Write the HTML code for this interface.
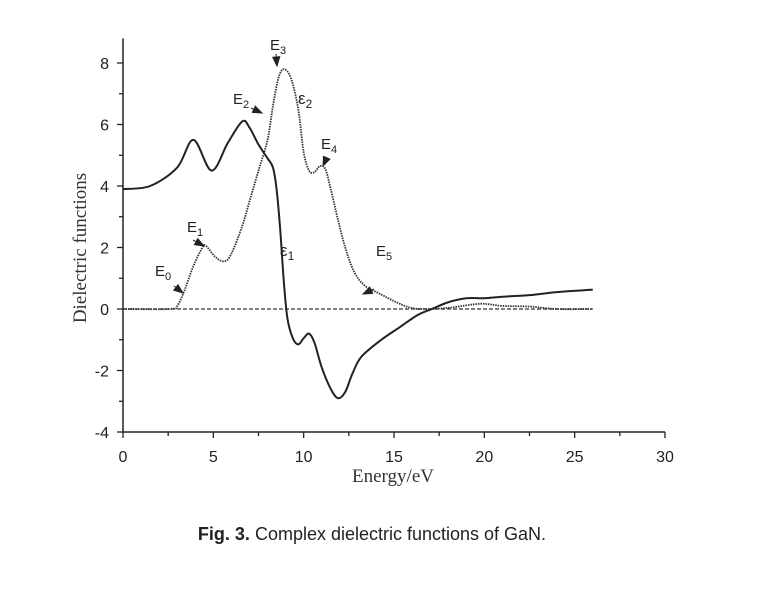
<!DOCTYPE html>
<html><head><meta charset="utf-8"><style>
body{margin:0;background:#fff}
svg text{font-family:"Liberation Sans",sans-serif}
</style></head><body>
<svg id="chart" width="762" height="592" viewBox="0 0 762 592" xmlns="http://www.w3.org/2000/svg">
<g id="axes"></g>
<g id="series"></g>
<g id="ann"></g>
<text x="393" y="482" text-anchor="middle" style="font-family:'Liberation Serif',serif;font-size:19px" fill="#333">Energy/eV</text>
<text transform="translate(86,248) rotate(-90)" text-anchor="middle" style="font-family:'Liberation Serif',serif;font-size:19px" fill="#333">Dielectric functions</text>
<text x="372" y="540" text-anchor="middle" style="font-family:'Liberation Sans',sans-serif;font-size:18px" fill="#222"><tspan font-weight="bold">Fig. 3.</tspan>  Complex dielectric functions of GaN.</text>
</svg>
<script>
const xTicks=[0,5,10,15,20,25,30];
const yTicks=[-4,-2,0,2,4,6,8];
const e1X=[0,1.5,3,3.9,4.9,5.8,6.6,7.0,7.5,8.0,8.3,8.5,8.7,8.9,9.1,9.4,9.7,10.0,10.3,10.6,11.0,11.5,11.9,12.3,12.7,13.2,14.3,15.3,16.3,17.1,18,19,20,21,22.5,24,26];
const e1Y=[3.9,4.0,4.6,5.5,4.5,5.4,6.1,5.9,5.35,4.9,4.6,3.9,2.6,0.9,-0.3,-0.95,-1.15,-0.95,-0.8,-1.1,-1.9,-2.6,-2.9,-2.7,-2.1,-1.55,-1.0,-0.6,-0.2,0,0.22,0.35,0.35,0.4,0.45,0.55,0.63];
const e2X=[0,2.6,3.0,3.4,3.9,4.4,4.6,5.1,5.6,6.0,6.6,7.0,7.5,8.0,8.3,8.6,8.9,9.3,9.7,10.0,10.3,10.6,10.9,11.2,11.5,11.9,12.3,12.8,13.4,14.2,15.2,16,17,18.2,19.8,21,22.5,24,26];
const e2Y=[0,0,0.1,0.6,1.4,2.0,2.05,1.7,1.55,1.8,2.7,3.5,4.5,5.5,6.6,7.5,7.8,7.5,6.5,5.1,4.5,4.45,4.65,4.55,3.9,2.9,2.0,1.2,0.75,0.5,0.2,0.03,0,0.05,0.17,0.1,0.08,0,0];
const X=v=>123+v*(542/30), Y=v=>309-v*30.75;
const NS="http://www.w3.org/2000/svg";
function mk(t,a,p){const e=document.createElementNS(NS,t);for(const k in a)e.setAttribute(k,a[k]);p.appendChild(e);return e;}
const ax=document.getElementById('axes');
let l=mk('path',{d:`M123,${Y(8.8)}V${Y(-4)}H665`,stroke:'#222','stroke-width':1.5,fill:'none'},ax);


for(let v=0;v<=30;v+=2.5){const major=v%5===0;let t=mk('line',{x1:X(v),x2:X(v),y1:Y(-4),y2:Y(-4)+(major?6:4),stroke:'#222','stroke-width':1.3},ax);

}
for(const v of xTicks){let t=mk('text',{x:X(v),y:462,'text-anchor':'middle','font-size':16,fill:'#222'},ax);t.textContent=v;

}
for(let v=-4;v<=8;v++){const major=v%2===0;let t=mk('line',{x1:123,x2:123-(major?6:4),y1:Y(v),y2:Y(v),stroke:'#222','stroke-width':1.3},ax);

}
for(const v of yTicks){let t=mk('text',{x:109,y:Y(v)+6,'text-anchor':'end','font-size':16,fill:'#222'},ax);t.textContent=v;

}
function smooth(xs,ys){const p=xs.map((x,i)=>[X(x),Y(ys[i])]);let d=`M${p[0][0]},${p[0][1]}`;
for(let i=0;i<p.length-1;i++){const p0=p[i-1]||p[i],p1=p[i],p2=p[i+1],p3=p[i+2]||p2;
d+=`C${p1[0]+(p2[0]-p0[0])/6},${p1[1]+(p2[1]-p0[1])/6} ${p2[0]-(p3[0]-p1[0])/6},${p2[1]-(p3[1]-p1[1])/6} ${p2[0]},${p2[1]}`;}return d;}
const sg=document.getElementById('series');
let z=mk('line',{x1:X(0),x2:X(26),y1:Y(0),y2:Y(0),stroke:'#333','stroke-width':1.3,'stroke-dasharray':'4,2'},sg);


let s2=mk('path',{d:smooth(e2X,e2Y),stroke:'#333','stroke-width':1.8,fill:'none','stroke-dasharray':'1.5,1'},sg);


let s1=mk('path',{d:smooth(e1X,e1Y),stroke:'#222','stroke-width':2,fill:'none'},sg);


const an=document.getElementById('ann');
const labels=[["E","0",155,276],["E","1",187,232],["E","2",233,104],["E","3",270,50],["E","4",321,149],["E","5",376,256]];
for(const [a,b,x,y] of labels){let t=mk('text',{x:x,y:y,'font-size':15,fill:'#222'},an);t.innerHTML=a+'<tspan font-size="11" dy="4">'+b+'</tspan>';

}
const eps=[["ε","2",298,104],["ε","1",280,256]];
for(const [a,b,x,y] of eps){let t=mk('text',{x:x,y:y,'font-size':17,fill:'#222'},an);t.innerHTML=a+'<tspan font-size="12" dy="4">'+b+'</tspan>';

}
const arrows=[[174,286,183,293],[193,240,204,246],[251,108,262,113],[276,54,277,66],[327,157,323,166],[374,289,363,294]];
for(const [x1,y1,x2,y2] of arrows){const ang=Math.atan2(y2-y1,x2-x1),L=9,W=3.5;
const bx=x2-L*Math.cos(ang),by=y2-L*Math.sin(ang);
let a=mk('path',{d:`M${x1},${y1}L${bx},${by}M${x2},${y2}L${bx-W*Math.sin(ang)},${by+W*Math.cos(ang)}L${bx+W*Math.sin(ang)},${by-W*Math.cos(ang)}Z`,stroke:'#222','stroke-width':1,fill:'#222'},an);

}
</script>
</body></html>
